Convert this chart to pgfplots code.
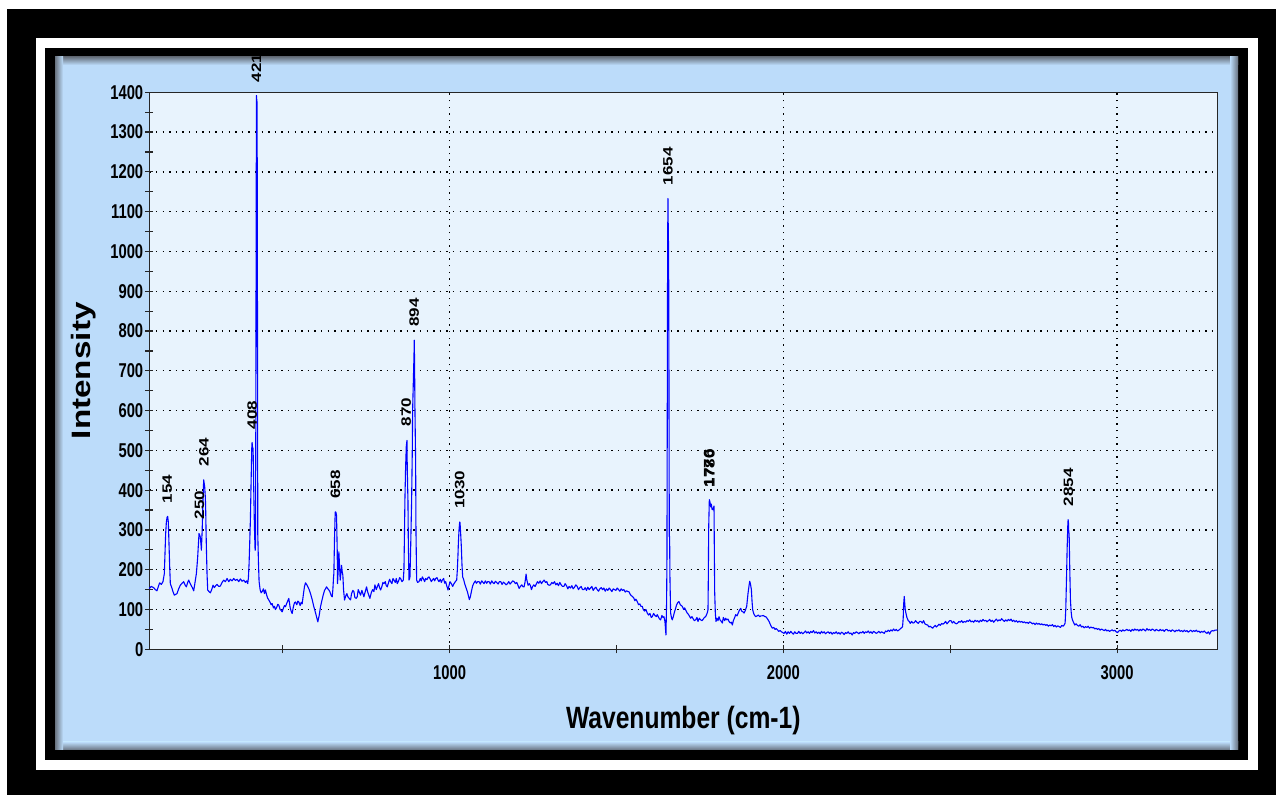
\documentclass[border=0pt]{standalone}
\usepackage{pgfplots}
\pgfplotsset{compat=1.18}
\usepackage{pgfplotstable}
\usepackage{fontspec}
\setmainfont{Liberation Sans}
\newfontfamily\condfont[FakeStretch=0.8]{Liberation Sans}
\newfontfamily\tickfont[FakeStretch=0.74]{Liberation Sans}
\newfontfamily\widefont[FakeStretch=1.25]{Liberation Sans}
\definecolor{panelblue}{RGB}{188,220,250}
\definecolor{plotbg}{RGB}{232,243,253}
\definecolor{shadowgray}{RGB}{105,115,128}
\definecolor{specblue}{RGB}{0,0,255}

\pgfplotstableread{
x y
100 153
106 158
113 155
118 150
123 147
128 160
131 167
136 163
141 170
145 190
147 240
149 290
151 318
153 331
155 334
157 320
159 266
161 210
163 165
166 158
168 153
171 145
175 136
179 138
183 140
188 152
193 161
198 166
203 170
207 162
211 157
215 168
218 174
222 166
225 161
229 155
233 147
237 168
241 190
243 210
245 232
247 262
249 291
251 287
253 282
255 262
256 249
258 290
259 316
261 380
263 426
264 420
266 408
268 380
269 349
270 300
271 257
273 190
275 149
279 145
283 142
287 150
291 161
295 155
299 160
303 163
308 158
313 159
318 168
323 174
328 170
333 178
338 170
343 176
348 172
353 178
358 173
363 176
368 170
373 177
378 171
383 174
388 168
392 172
395 165
397 180
399 216
401 270
403 328
405 420
407 505
408 520
409 510
411 504
413 400
415 307
417 249
418 250
419 500
420 975
421 1392
422 1380
423 1375
424 900
425 290
427 220
429 170
432 150
435 142
438 145
442 152
445 140
448 149
452 135
455 128
458 124
462 118
465 112
468 115
472 104
475 108
478 100
482 106
485 113
488 111
492 100
495 98
498 94
502 104
505 110
508 107
512 116
515 122
518 128
522 105
525 96
528 90
532 108
535 117
538 119
542 112
545 121
548 119
552 110
555 118
558 114
562 140
565 158
568 167
572 162
575 157
579 150
583 140
588 125
593 107
597 95
601 82
605 69
609 85
613 107
617 122
621 136
625 148
628 152
631 157
635 152
638 149
641 145
645 135
648 132
650 150
652 180
653 190
655 280
657 345
659 345
661 337
663 250
664 165
666 200
668 245
670 210
672 174
674 190
676 211
678 195
680 186
682 150
685 124
689 135
692 140
695 132
699 128
703 124
706 140
710 148
713 145
716 130
720 128
723 132
726 150
730 142
733 136
737 148
740 140
743 132
747 145
751 157
754 145
758 135
761 128
765 142
769 150
773 145
776 162
780 150
783 157
787 165
790 155
793 149
797 158
800 168
803 165
807 170
810 160
813 157
817 168
820 176
823 170
827 165
830 178
833 174
837 168
840 178
843 165
847 172
850 180
853 178
857 170
861 174
863 200
864 257
866 380
868 458
870 510
872 525
873 450
875 374
876 280
878 174
880 178
881 182
883 250
886 374
888 500
889 600
891 669
893 735
894 777
895 700
896 600
898 470
899 300
901 174
904 168
908 170
912 178
915 172
918 182
922 176
925 170
928 178
932 175
935 180
938 182
942 176
945 170
948 174
952 178
955 172
958 178
962 180
965 174
968 170
972 176
975 168
978 174
982 178
985 166
988 170
991 160
993 155
995 149
998 160
1001 170
1005 165
1009 158
1013 165
1017 170
1021 174
1023 200
1025 240
1026 266
1028 300
1030 320
1031 318
1033 290
1035 257
1037 210
1039 182
1042 175
1045 165
1049 155
1053 145
1056 135
1059 125
1062 132
1065 145
1069 160
1073 167
1077 172
1080 166
1084 170
1088 170
1092 164
1096 172
1100 168
1103 165
1107 172
1111 166
1114 170
1118 170
1122 164
1126 172
1130 167
1133 165
1137 171
1141 168
1145 164
1149 170
1153 170
1157 163
1161 169
1165 166
1169 162
1173 165
1177 170
1181 164
1185 168
1189 172
1193 170
1197 165
1201 168
1205 160
1208 153
1212 158
1216 162
1220 157
1223 157
1226 170
1229 189
1231 175
1235 161
1239 165
1242 160
1245 150
1248 157
1252 162
1256 158
1260 165
1263 170
1267 166
1271 172
1275 165
1279 170
1283 174
1287 168
1291 170
1294 163
1298 161
1302 162
1306 168
1310 165
1314 170
1318 162
1322 166
1326 160
1330 168
1334 162
1338 158
1342 158
1346 165
1350 160
1354 152
1358 158
1362 154
1366 160
1370 152
1374 156
1378 162
1382 158
1386 150
1390 155
1394 158
1398 150
1402 150
1406 155
1410 148
1414 156
1418 150
1422 154
1426 158
1430 148
1434 153
1438 156
1442 150
1446 146
1450 152
1454 155
1458 150
1462 154
1466 146
1470 152
1474 148
1478 154
1482 150
1486 145
1490 152
1494 150
1498 148
1502 154
1506 150
1510 146
1514 152
1518 148
1522 150
1526 144
1530 147
1534 145
1537 145
1541 138
1544 135
1547 133
1551 130
1555 122
1558 126
1562 120
1566 112
1570 114
1573 108
1577 108
1580 100
1584 96
1588 100
1592 91
1596 86
1600 90
1604 80
1607 82
1611 90
1615 85
1619 82
1622 87
1626 80
1629 76
1632 74
1636 85
1639 80
1642 82
1645 70
1648 36
1650 120
1651 225
1652 600
1653 1003
1654 1133
1655 1050
1656 1003
1657 700
1658 283
1659 284
1660 180
1662 91
1665 78
1667 74
1670 82
1674 95
1677 103
1680 112
1684 118
1687 120
1691 112
1694 110
1697 108
1701 100
1704 104
1707 99
1711 92
1715 88
1718 84
1722 78
1726 82
1730 76
1733 72
1737 74
1741 80
1744 70
1748 78
1752 74
1756 72
1760 76
1763 80
1767 82
1770 88
1772 92
1774 99
1775 180
1776 301
1777 340
1778 376
1780 370
1782 358
1784 365
1786 352
1788 351
1790 355
1792 360
1793 250
1794 145
1796 90
1798 70
1801 78
1804 72
1807 82
1810 74
1814 70
1817 66
1820 80
1824 72
1827 78
1830 74
1834 76
1837 70
1841 66
1844 68
1847 61
1850 72
1854 80
1857 87
1861 84
1865 92
1868 98
1872 103
1875 96
1879 94
1882 91
1886 98
1890 108
1892 125
1894 141
1897 160
1899 171
1901 165
1904 150
1906 120
1908 99
1911 90
1914 85
1917 82
1921 84
1925 86
1929 82
1932 84
1936 84
1940 85
1944 82
1947 82
1951 78
1954 74
1957 70
1961 62
1964 57
1967 53
1971 55
1975 50
1978 52
1982 49
1986 45
1990 47
1994 44
1998 42
2002 40
2006 45
2010 38
2014 44
2018 40
2022 45
2026 41
2030 38
2034 44
2038 40
2042 40
2046 45
2050 40
2054 43
2058 39
2062 42
2066 46
2070 41
2074 44
2078 40
2082 45
2086 42
2090 47
2094 41
2098 44
2102 40
2106 43
2110 39
2114 45
2118 41
2122 44
2126 39
2130 42
2134 44
2138 40
2142 43
2146 38
2150 42
2154 40
2158 44
2162 39
2166 42
2170 38
2174 43
2178 41
2182 37
2186 42
2190 40
2194 44
2198 39
2202 41
2206 36
2210 42
2214 40
2218 44
2222 42
2226 39
2230 43
2234 41
2238 45
2242 40
2246 44
2250 42
2254 46
2258 41
2262 44
2266 40
2270 45
2274 43
2278 40
2282 42
2286 45
2290 41
2294 44
2298 42
2302 40
2306 46
2310 44
2314 48
2318 45
2322 49
2326 46
2330 51
2334 47
2338 50
2342 46
2347 49
2351 52
2355 55
2357 57
2359 80
2360 110
2362 133
2364 110
2365 100
2367 91
2370 80
2374 72
2377 70
2380 65
2384 70
2388 66
2392 67
2396 72
2400 68
2404 65
2408 70
2412 70
2416 66
2420 72
2424 64
2428 62
2432 61
2436 56
2440 58
2444 55
2447 53
2451 57
2455 60
2458 56
2462 59
2466 63
2470 60
2474 65
2478 63
2482 66
2486 70
2490 64
2494 68
2498 72
2502 72
2506 66
2510 70
2514 66
2518 64
2522 66
2526 70
2530 68
2534 72
2538 67
2542 70
2546 68
2550 72
2554 70
2558 74
2562 69
2566 71
2570 68
2574 73
2578 70
2582 72
2586 68
2590 73
2594 70
2598 75
2602 71
2606 73
2610 69
2614 72
2618 75
2622 70
2626 73
2630 68
2634 72
2638 76
2642 71
2646 74
2650 72
2654 77
2658 73
2662 70
2666 74
2670 71
2674 75
2678 72
2682 76
2686 70
2690 73
2694 69
2698 72
2702 68
2706 71
2710 68
2714 70
2718 67
2722 69
2726 66
2730 68
2734 65
2738 69
2742 67
2746 64
2750 66
2754 62
2758 66
2762 63
2766 65
2770 62
2774 64
2778 61
2782 63
2786 60
2790 62
2794 58
2798 61
2802 59
2806 62
2810 57
2814 60
2818 56
2822 59
2826 57
2830 55
2834 60
2838 58
2842 62
2844 66
2846 100
2848 171
2850 250
2852 310
2853 326
2854 318
2855 292
2856 292
2858 200
2860 124
2862 95
2864 80
2866 74
2870 66
2873 61
2877 64
2881 60
2885 58
2889 62
2893 56
2897 58
2901 54
2905 57
2909 55
2913 58
2917 53
2921 56
2925 54
2929 55
2933 51
2937 53
2941 50
2945 52
2949 48
2953 51
2957 49
2961 47
2965 50
2969 46
2973 48
2977 45
2981 47
2985 49
2989 46
2993 48
2997 44
3001 42
3005 46
3009 48
3013 45
3017 49
3021 46
3025 48
3029 50
3033 47
3037 49
3041 45
3045 50
3049 47
3053 51
3057 48
3061 50
3065 46
3069 50
3073 47
3077 51
3081 49
3085 46
3089 52
3093 48
3097 50
3101 47
3105 51
3109 49
3113 46
3117 50
3121 48
3125 46
3129 50
3133 47
3137 49
3141 45
3145 49
3149 50
3153 46
3157 48
3161 45
3165 49
3169 47
3173 44
3177 48
3181 46
3185 49
3189 45
3193 47
3197 44
3201 48
3205 45
3209 47
3213 43
3217 46
3221 48
3225 44
3229 47
3233 45
3237 48
3241 44
3245 46
3249 42
3253 45
3257 43
3261 46
3265 42
3269 40
3273 44
3277 38
3281 45
3285 47
3289 46
3293 48
3297 48
3300 49
}\spectrum

\begin{document}
\begin{tikzpicture}
\begin{scope}[x=0.5pt,y=-0.5pt]
\path[use as bounding box] (0,0) rectangle (1276,795);
\fill[black] (7,9) rectangle (1276,795);
\fill[white] (36,38) rectangle (1258,770);
\fill[black] (45,48) rectangle (1248,760);
\fill[panelblue] (55,57) rectangle (1238,750);
\shade[top color=shadowgray, bottom color=panelblue] (55,57) rectangle (1238,65);
\shade[top color=panelblue, bottom color=shadowgray] (55,742) rectangle (1238,750);
\shade[left color=shadowgray, right color=panelblue] (55,57) rectangle (63,750);
\shade[left color=panelblue, right color=shadowgray] (1230,57) rectangle (1238,750);
\end{scope}
\begin{axis}[
  at={(74.65pt,-324.65pt)}, anchor=south west,
  scale only axis, width=534pt, height=278.5pt,
  xmin=100, xmax=3300, ymin=0, ymax=1400,
  xtick={1000,2000,3000}, minor xtick={500,1500,2500},
  ytick={0,100,...,1400}, minor ytick={50,150,...,1350},
  tick pos=left, tick align=center,
  major tick length=4pt, minor tick length=4pt,
  every tick/.style={black!85, line width=0.6pt},
  xmajorgrids, ymajorgrids,
  major grid style={black, line width=0.7pt, dash pattern=on 0.7pt off 2.6pt},
  axis background/.style={fill=plotbg},
  axis line style={black!85, line width=0.7pt},
  ticklabel style={font=\tickfont\bfseries\fontsize{10}{12}\selectfont},
  yticklabel style={xshift=2.5pt},
  xticklabel style={yshift=-2.5pt},
  /pgf/number format/assume math mode=true,
  /pgf/number format/1000 sep={},
  xlabel={Wavenumber (cm-1)}, ylabel={Intensity},
  xlabel style={at={(axis description cs:0.5,-0.1275)}, anchor=center,
    font=\condfont\bfseries\fontsize{15.4}{18}\selectfont},
  ylabel style={at={(axis description cs:-0.0618,0.5)}, anchor=center,
    font=\widefont\bfseries\fontsize{13.3}{16}\selectfont},
  clip=false,
]
\addplot[specblue, line width=0.55pt, line join=round, mark=none] table[x=x,y=y] {\spectrum};
\addplot[draw=none, mark=none, point meta=explicit symbolic,
  nodes near coords={\rotatebox{90}{\pgfplotspointmeta}},
  every node near coord/.append style={font=\widefont\bfseries\fontsize{6.8}{8}\selectfont,
    inner sep=0pt, anchor=south, yshift=6.5pt}]
coordinates {
(154,334) [154]
(250,293) [250]
(264,427) [264]
(408,519) [408]
(421,1392) [421]
(658,345) [658]
(870,527) [870]
(894,777) [894]
(1030,320) [1030]
(1654,1133) [1654]
(1776,374) [1776]
(1780,374) [1780]
(2854,326) [2854]
};
\end{axis}
\end{tikzpicture}
\end{document}
